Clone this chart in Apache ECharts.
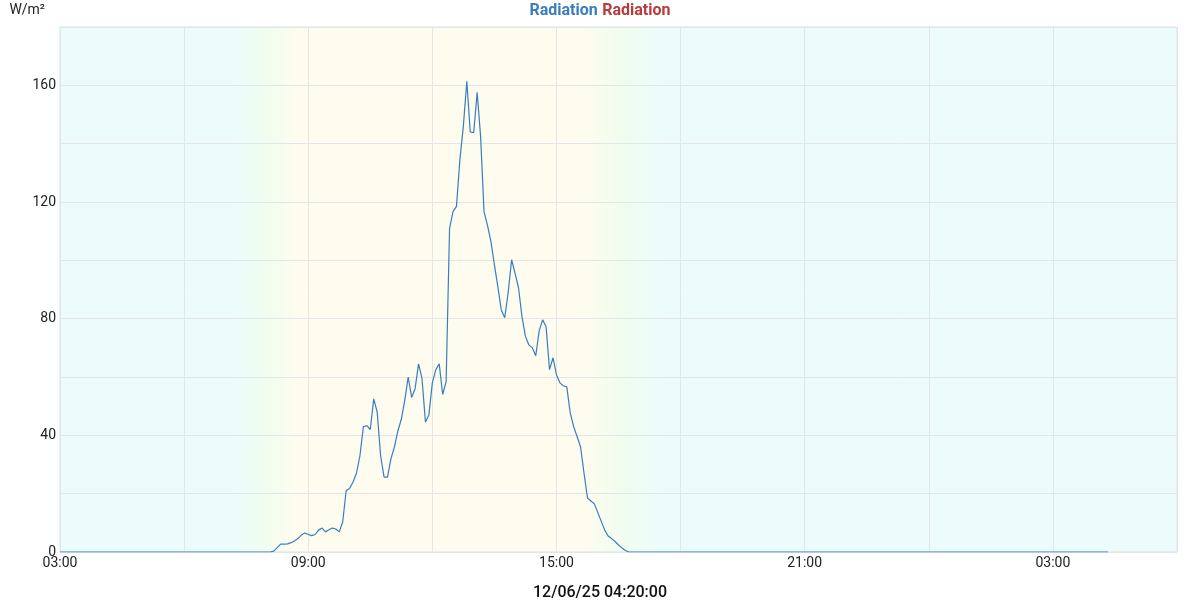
<!DOCTYPE html>
<html>
<head>
<meta charset="utf-8">
<script src="https://cdn.jsdelivr.net/npm/echarts@6/dist/echarts.min.js"></script>
<style>html,body{margin:0;padding:0;background:#fff;}#c{width:1200px;height:600px;}</style>
</head>
<body>
<div id="c"></div>
<script>
// Data: 5-minute readings starting 03:00 (hours expressed as 3..27.33)
const startHour = 3;
const stepMinutes = 5;
const zerosBefore = 62; // readings 03:00 .. 08:05 are all zero
const dayValues = [
  0.3, 1.5, 2.7, 2.7, 2.8, 3.2, 3.8, 4.6, 5.8, 6.5,
  6.0, 5.6, 6.0, 7.5, 8.2, 6.9, 7.6, 8.2, 7.9, 6.9,
  10.3, 21, 21.8, 24, 27, 33, 43, 43.3, 42, 52.5,
  48, 33, 25.7, 25.7, 32, 36, 41.5, 45.5, 52, 60,
  53, 56, 64.5, 59.5, 44.6, 47, 58, 62.5, 64.5, 54,
  58.4, 111, 116.7, 118.5, 134.6, 146, 161.4, 144, 143.8, 157.6,
  142.5, 116.7, 112, 106.4, 98.5, 91, 83, 80.3, 89, 100.2,
  95.5, 90.6, 80.7, 74, 71, 70, 67.3, 75.9, 79.6, 77.2,
  62.5, 66.6, 60.8, 58, 57, 56.6, 47.7, 43, 39.5, 36,
  27, 18.5, 17.5, 16.5, 13.5, 10.5, 7.5, 5.5, 4.6, 3.6,
  2.4, 1.4, 0.5
];
const totalReadings = 305; // 03:00 .. 04:20 next day
const xTicks = [3, 9, 15, 21, 27];
const seriesName = 'Radiation';
const unitName = 'W/m\u00b2';
const dateLabel = '12/06/25 04:20:00';

const values = [];
for (let i = 0; i < totalReadings; i++) {
  const j = i - zerosBefore;
  values.push(j >= 0 && j < dayValues.length ? dayValues[j] : 0);
}
const points = values.map((v, i) => [startHour + i * stepMinutes / 60, v]);

const pad = n => (n < 10 ? '0' : '') + n;
const chart = echarts.init(document.getElementById('c'), null, {renderer: 'canvas'});
const bg = new echarts.graphic.LinearGradient(0, 0, 1, 0, [
  {offset: 0, color: '#ecfcfd'},
  {offset: 0.155, color: '#ecfcfd'},
  {offset: 0.182, color: '#effdef'},
  {offset: 0.21, color: '#fdfcee'},
  {offset: 0.47, color: '#fdfcee'},
  {offset: 0.505, color: '#effdef'},
  {offset: 0.54, color: '#ecfcfd'},
  {offset: 1, color: '#ecfcfd'}
]);
chart.setOption({
  animation: false,
  textStyle: {fontFamily: 'Roboto'},
  title: [{
    left: 'center', top: -3,
    text: '{a|' + seriesName + '} {b|' + seriesName + '}',
    textStyle: {
      rich: {
        a: {color: '#3a7dbf', fontWeight: 'bold', fontSize: 16, fontFamily: 'Roboto'},
        b: {color: '#b83a3a', fontWeight: 'bold', fontSize: 16, fontFamily: 'Roboto'}
      }
    }
  }, {
    left: 'center', top: 580,
    text: dateLabel,
    textStyle: {fontSize: 16, color: '#111', fontWeight: 500, fontFamily: 'Roboto'}
  }],
  grid: {
    left: 60, right: 23, top: 27, bottom: 48,
    outerBoundsMode: 'none', containLabel: false,
    show: true, backgroundColor: bg, borderColor: '#dde3e6', borderWidth: 1
  },
  xAxis: {
    type: 'value', min: 3, max: 30, interval: 3,
    axisLine: {show: false}, axisTick: {show: false},
    splitLine: {show: true, lineStyle: {color: '#e3e6e8', width: 1}},
    axisLabel: {
      fontSize: 14, color: '#222', margin: 4,
      formatter: v => xTicks.indexOf(v) >= 0 ? pad(v % 24) + ':00' : ''
    }
  },
  yAxis: {
    type: 'value', min: 0, max: 180, interval: 20,
    name: unitName, nameLocation: 'end', nameGap: 10,
    nameTextStyle: {fontSize: 14, color: '#222', align: 'right', padding: [0, 15, 0, 0]},
    axisLine: {show: false}, axisTick: {show: false},
    splitLine: {show: true, lineStyle: {color: '#e3e6e8', width: 1}},
    axisLabel: {
      fontSize: 14, color: '#222', margin: 4,
      formatter: v => (v % 40 === 0 ? String(v) : '')
    }
  },
  series: [{
    name: seriesName, type: 'line', data: points, showSymbol: false,
    lineStyle: {color: '#3a7dbf', width: 1.2}, itemStyle: {color: '#3a7dbf'}
  }]
});
</script>
</body>
</html>
